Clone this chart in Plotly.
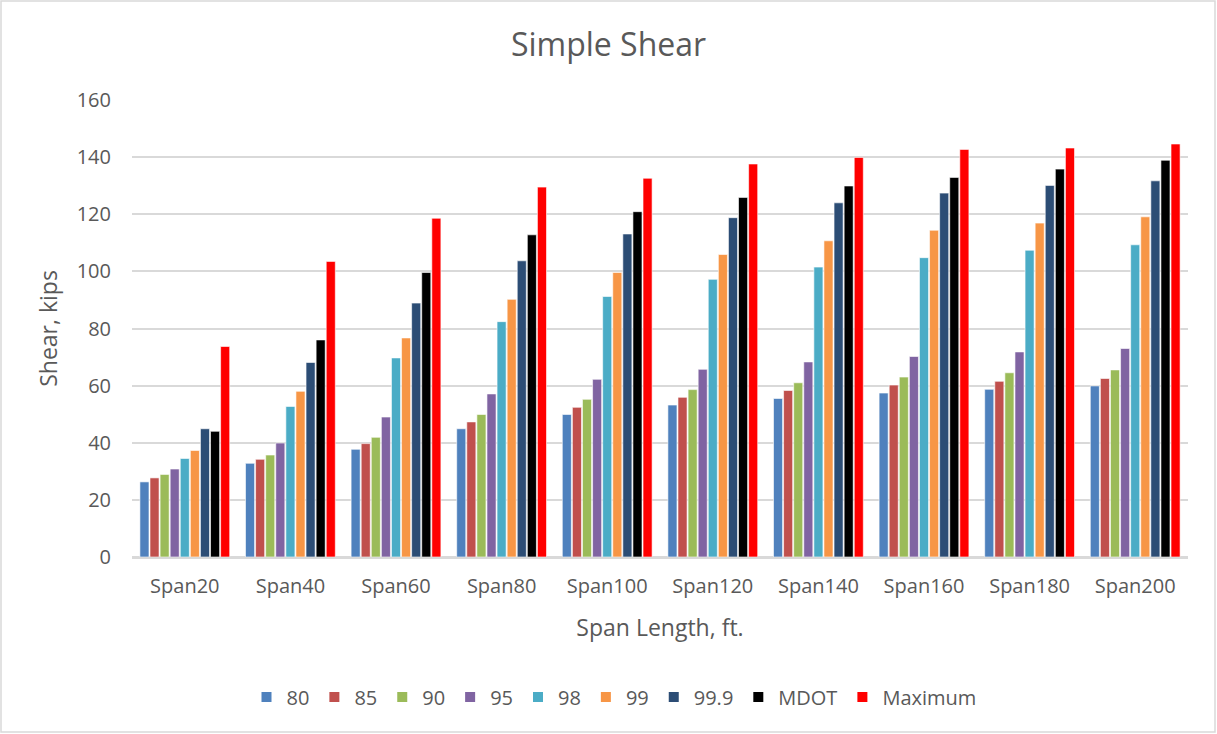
import plotly.graph_objects as go

categories = ["Span20", "Span40", "Span60", "Span80", "Span100",
              "Span120", "Span140", "Span160", "Span180", "Span200"]

s80 = [26.3, 32.8, 37.7, 44.9, 49.9, 53.2, 55.5, 57.4, 58.7, 59.9]
s85 = [27.7, 34.2, 39.7, 47.3, 52.4, 55.9, 58.3, 60.2, 61.5, 62.5]
s90 = [28.9, 35.7, 41.9, 49.9, 55.2, 58.6, 61.0, 63.0, 64.5, 65.5]
s95 = [30.8, 39.9, 49.0, 57.1, 62.2, 65.7, 68.3, 70.2, 71.8, 73.0]
s98 = [34.5, 52.7, 69.7, 82.4, 91.2, 97.2, 101.5, 104.8, 107.4, 109.3]
s99 = [37.3, 58.0, 76.7, 90.2, 99.6, 105.9, 110.7, 114.4, 116.9, 119.1]
s999 = [44.9, 68.1, 88.9, 103.7, 113.1, 118.8, 124.0, 127.4, 130.1, 131.7]
mdot = [44.0, 76.0, 99.6, 112.8, 120.9, 125.9, 129.9, 132.9, 135.8, 138.9]
maximum = [73.7, 103.5, 118.6, 129.5, 132.6, 137.6, 139.9, 142.7, 143.2, 144.6]

series_names = ["80", "85", "90", "95", "98", "99", "99.9", "MDOT", "Maximum"]
series_values = [s80, s85, s90, s95, s98, s99, s999, mdot, maximum]
colors = ["#4F81BD", "#C0504D", "#9BBB59", "#8064A2", "#4BACC6",
          "#F79646", "#2C4D75", "#000000", "#FF0000"]

FONT = "'Open Sans', sans-serif"
TXT = "#595959"

fig = go.Figure()
for name, vals, col in zip(series_names, series_values, colors):
    fig.add_trace(go.Bar(
        x=categories, y=vals, name=name,
        marker=dict(color=col, line=dict(color="white", width=0.6)),
    ))

W, H = 1217, 734
ml, mr, mt, mb = 132, 29, 100, 177
pw, ph = W - ml - mr, H - mt - mb

fig.update_layout(
    width=W, height=H,
    margin=dict(l=ml, r=mr, t=mt, b=mb, autoexpand=False),
    paper_bgcolor="white", plot_bgcolor="white",
    barmode="group", bargap=0.14, bargroupgap=0.1,
    font=dict(family=FONT, color=TXT, size=20),
    title=dict(text="Simple Shear", x=0.5, xanchor="center",
               y=1 - 45 / H, yanchor="middle",
               font=dict(size=32, color=TXT, family=FONT)),
    legend=dict(orientation="h", x=(614 - ml) / pw, xanchor="center",
                y=(ph - (697 - mt)) / ph, yanchor="middle",
                font=dict(size=20, color=TXT), traceorder="normal",
                itemwidth=30, itemsizing="constant"),
    xaxis=dict(
        title=dict(text="Span Length, ft.", font=dict(size=23, color=TXT), standoff=22),
        tickfont=dict(size=20, color=TXT), showgrid=False, ticklabelstandoff=10,
        showline=True, linecolor="#d9d9d9", linewidth=1.5, ticks="",
    ),
    yaxis=dict(
        title=dict(text="Shear, kips", font=dict(size=23, color=TXT), standoff=12),
        range=[0, 160], dtick=20, tickfont=dict(size=20, color=TXT),
        ticklabelstandoff=20,
        showgrid=True, gridcolor="#d9d9d9", gridwidth=1.5,
        zeroline=True, zerolinecolor="#d9d9d9", zerolinewidth=1.5,
        showline=False, ticks="",
    ),
    shapes=[dict(type="rect", xref="paper", yref="paper",
                 x0=(1 - ml) / pw, x1=(W - 2 - ml) / pw,
                 y0=-(mb - 2) / ph, y1=1 + (mt - 1) / ph,
                 line=dict(color="#d9d9d9", width=1.5), layer="below")],
)

fig.write_html("out.html", config={"displayModeBar": False},
               post_script="document.body.style.margin='0';")
